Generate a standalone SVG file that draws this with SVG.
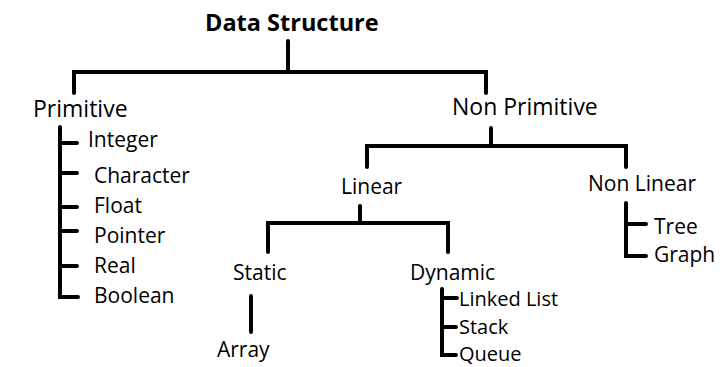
<svg xmlns="http://www.w3.org/2000/svg" width="728" height="367" viewBox="0 0 728 367">
<style>
text{font-family:"Open Sans","Noto Sans",sans-serif;font-size:21px;fill:#000}
.t{font-weight:bold;font-size:23.5px}
.b{font-size:23px}
.s{font-size:20px}
.c path{fill:none;stroke:#000;stroke-width:4;stroke-linecap:round;stroke-linejoin:miter}
</style>
<rect width="728" height="367" fill="#fff"/>
<g class="c" id="connectors">
<path d="M288 41V72M74 93V72H486V93"/>
<path d="M491 128V146M367 167V146H626V167"/>
<path d="M360 206V223M268 252V223H448V252"/>
<path d="M251 296V332"/>
<path d="M442 289V355H456M442 298H457M442 327H456"/>
<path d="M60 127V297H78M60 143H77M60 173H77M60 207H77M60 231H77M60 266H77"/>
<path d="M626 203V256H646M626 224H646"/>
</g>
<g id="n-root"><text class="t" x="205" y="31">Data Structure</text></g>
<g id="n-primitive"><text class="b" x="33" y="117">Primitive</text></g>
<g id="n-nonprimitive"><text class="b" x="452" y="115">Non Primitive</text></g>
<g id="n-integer"><text x="88" y="147">Integer</text></g>
<g id="n-character"><text x="94" y="183">Character</text></g>
<g id="n-float"><text x="94" y="213">Float</text></g>
<g id="n-pointer"><text x="94" y="243">Pointer</text></g>
<g id="n-real"><text x="94" y="273">Real</text></g>
<g id="n-boolean"><text x="94" y="303">Boolean</text></g>
<g id="n-linear"><text x="341" y="194">Linear</text></g>
<g id="n-nonlinear"><text x="588" y="191">Non Linear</text></g>
<g id="n-tree"><text x="654" y="234">Tree</text></g>
<g id="n-graph"><text x="654" y="262">Graph</text></g>
<g id="n-static"><text x="233" y="280">Static</text></g>
<g id="n-dynamic"><text x="410" y="280">Dynamic</text></g>
<g id="n-array"><text x="217" y="357">Array</text></g>
<g id="n-linkedlist"><text class="s" x="459" y="306">Linked List</text></g>
<g id="n-stack"><text class="s" x="459" y="334">Stack</text></g>
<g id="n-queue"><text class="s" x="459" y="361">Queue</text></g>
</svg>
